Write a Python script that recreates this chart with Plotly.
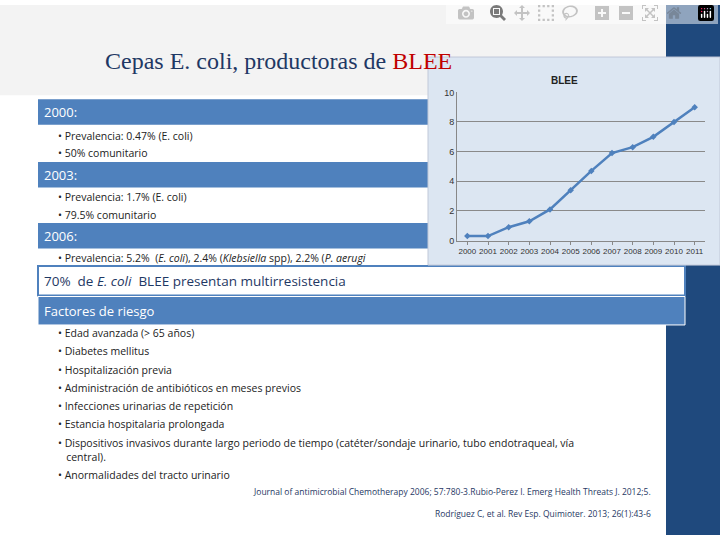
import plotly.graph_objects as go

years = [str(y) for y in range(2000, 2012)]
blee = [0.3, 0.3, 0.9, 1.3, 2.1, 3.4, 4.7, 5.9, 6.3, 7.0, 8.0, 9.0]
y_ticks = [0, 2, 4, 6, 8, 10]

W, H = 720, 540
def px(x): return x / W
def py(y): return 1 - y / H

fig = go.Figure()
fig.add_trace(go.Scatter(x=years, y=blee, mode="lines+markers",
                         line=dict(color="#4F81BD", width=2.5),
                         marker=dict(symbol="diamond", size=5, color="#4F81BD"),
                         showlegend=False))

shapes = []
def rect(x0, y0, x1, y1, fill, line=None, lw=0):
    shapes.append(dict(type="rect", xref="paper", yref="paper", layer="below",
                       x0=px(x0), x1=px(x1), y0=py(y1), y1=py(y0),
                       fillcolor=fill, line=dict(color=line or fill, width=lw)))

rect(0, 0, 666, 540, "#FFFFFF")
rect(0, 0, 666, 92, "#F3F3F3")
rect(666, 0, 720, 540, "#1F497D")
blue = "#4F81BD"
rect(38, 96, 685, 122, blue)
rect(38, 160, 685, 186, blue)
rect(38, 222, 685, 248, blue)
rect(38, 266, 685, 296, "#FFFFFF", blue, 2)
rect(38, 297, 685, 326, blue, "#FFFFFF", 1)
rect(428, 53, 720, 265, "#DCE6F2", "#C0C8D8", 1)

ann = []
def text(x, y, s, size=11, color="#222222", anchor="left", font="Open Sans"):
    ann.append(dict(x=px(x), y=py(y), xref="paper", yref="paper", text=s,
                    showarrow=False, xanchor=anchor, yanchor="middle",
                    font=dict(size=size, color=color, family=font)))

text(103, 57, "Cepas E. coli, productoras de <span style='color:#C00000'>BLEE</span>",
     size=24, color="#1F3864", font="Liberation Serif")
text(42, 109, "2000:", 13, "#FFFFFF")
text(56, 133, "• Prevalencia: 0.47% (E. coli)", 10.5)
text(56, 151, "• 50% comunitario", 10.5)
text(42, 173, "2003:", 13, "#FFFFFF")
text(56, 196, "• Prevalencia: 1.7% (E. coli)", 10.5)
text(56, 214, "• 79.5% comunitario", 10.5)
text(42, 235, "2006:", 13, "#FFFFFF")
text(56, 258, "• Prevalencia: 5.2%  (<i>E. coli</i>), 2.4% (<i>Klebsiella</i> spp), 2.2% (<i>P. aerugi</i>", 10.5)
text(42, 281, "70%  de <i>E. coli</i>  BLEE presentan multirresistencia", 13.5, "#1F3864")
text(42, 312, "Factores de riesgo", 13, "#FFFFFF")
risk = ["• Edad avanzada (> 65 años)", "• Diabetes mellitus", "• Hospitalización previa",
        "• Administración de antibióticos en meses previos",
        "• Infecciones urinarias de repetición", "• Estancia hospitalaria prolongada",
        "• Dispositivos invasivos durante largo periodo de tiempo (catéter/sondaje urinario, tubo endotraqueal, vía",
        "   central).", "• Anormalidades del tracto urinario"]
ys = [334, 353, 372, 390, 409, 427, 446, 461, 479]
for s, y in zip(risk, ys):
    text(56, y, s, 10.5)
text(653, 496, "Journal of antimicrobial Chemotherapy 2006; 57:780-3.Rubio-Perez I. Emerg Health Threats J. 2012;5.",
     8.5, "#1F3864", "right")
text(653, 518, "Rodríguez C, et al. Rev Esp. Quimioter. 2013; 26(1):43-6", 8.5, "#1F3864", "right")
ann.append(dict(x=px(580), y=py(69), xref="paper", yref="paper", text="<b>BLEE</b>",
                showarrow=False, font=dict(size=10, color="#222", family="Liberation Sans")))

fig.update_layout(
    width=W, height=H, margin=dict(l=0, r=0, t=0, b=0),
    paper_bgcolor="#FFFFFF", plot_bgcolor="rgba(0,0,0,0)",
    shapes=shapes, annotations=ann,
    xaxis=dict(domain=[px(457), px(705)], type="category", range=[-0.5, 11.5],
               showgrid=False, showline=True, linecolor="#888", ticks="outside",
               ticklen=3, tickcolor="#888",
               tickfont=dict(size=8, color="#333", family="Liberation Sans")),
    yaxis=dict(domain=[py(240), py(89)], range=[0, 10], tickvals=y_ticks,
               showgrid=True, gridcolor="#8A8A8A", gridwidth=1, showline=True,
               linecolor="#888", zeroline=False,
               tickfont=dict(size=9, color="#333", family="Liberation Sans")),
)
fig.write_html("out.html",
               post_script="document.body.style.margin='0';document.body.style.overflow='hidden';")
